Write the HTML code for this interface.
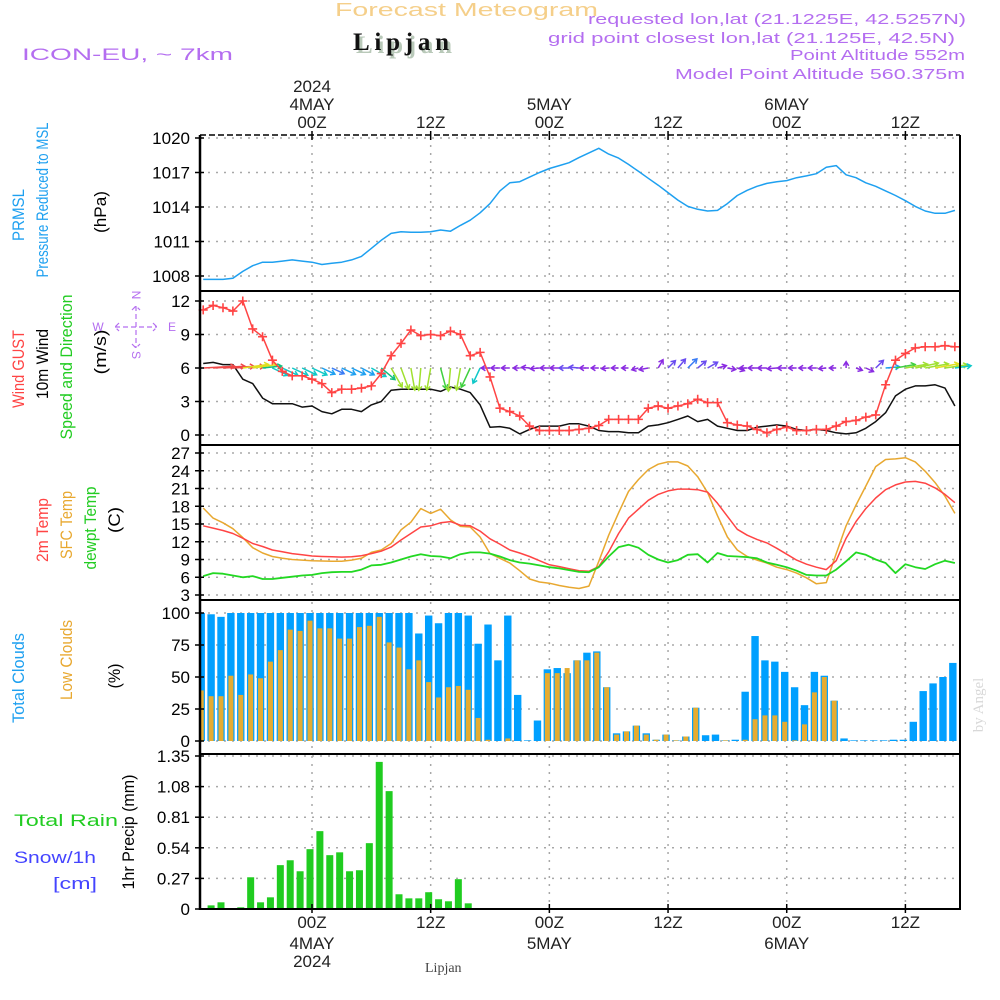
<!DOCTYPE html>
<html><head><meta charset="utf-8">
<style>
html,body{margin:0;padding:0;background:#fff;}
svg{display:block;font-family:"Liberation Sans",sans-serif;}
</style></head>
<body>
<svg id="chart" width="1000" height="1000" viewBox="0 0 1000 1000" xmlns="http://www.w3.org/2000/svg">
<rect x="0" y="0" width="1000" height="1000" fill="#fff"/>
<text x="335" y="16" font-size="18" fill="#f5cf8a" textLength="263" lengthAdjust="spacingAndGlyphs">Forecast Meteogram</text>
<text x="356" y="53" font-family="Liberation Serif,serif" font-weight="bold" font-size="25" fill="#b9c9b9" textLength="96">Lipjan</text>
<text x="353" y="50" font-family="Liberation Serif,serif" font-weight="bold" font-size="25" fill="#111" textLength="96">Lipjan</text>
<text x="22" y="60" font-size="17" fill="#b46ef0" textLength="211" lengthAdjust="spacingAndGlyphs">ICON-EU, ~ 7km</text>
<text x="588" y="24" font-size="15" fill="#b46ef0" textLength="378" lengthAdjust="spacingAndGlyphs">requested lon,lat (21.1225E, 42.5257N)</text>
<text x="548" y="43" font-size="15" fill="#b46ef0" textLength="407" lengthAdjust="spacingAndGlyphs">grid point closest lon,lat (21.125E, 42.5N)</text>
<text x="790" y="60" font-size="15" fill="#b46ef0" textLength="175" lengthAdjust="spacingAndGlyphs">Point Altitude 552m</text>
<text x="675" y="79" font-size="15" fill="#b46ef0" textLength="290" lengthAdjust="spacingAndGlyphs">Model Point Altitude 560.375m</text>
<text transform="translate(983,705) rotate(-90)" text-anchor="middle" font-family="Liberation Serif,serif" font-size="15" fill="#d8d8d8">by Angel</text>
<text x="425" y="972" font-family="Liberation Serif,serif" font-size="14" fill="#444">Lipjan</text>
<g id="g-grid"></g>
<g id="g-data"></g>
<g id="g-axes"></g>
<g id="g-labels"></g>
</svg>
<script>
// ---------------- DATA ----------------
const hours = [];
for (let h = -11; h <= 65; h++) hours.push(h);

const pressure = [1007.7,1007.7,1007.7,1007.8,1008.4,1008.9,1009.2,1009.2,1009.3,1009.4,1009.3,
 1009.2,1009.0,1009.1,1009.2,1009.4,1009.7,1010.4,1011.1,1011.7,1011.85,1011.8,1011.8,
 1011.85,1012.0,1011.9,1012.4,1012.85,1013.5,1014.3,1015.4,1016.1,1016.2,1016.6,1017.0,
 1017.35,1017.6,1017.85,1018.3,1018.7,1019.1,1018.6,1018.25,1017.7,1017.1,1016.5,1015.9,
 1015.25,1014.6,1014.05,1013.8,1013.65,1013.7,1014.3,1015.0,1015.45,1015.8,1016.05,1016.2,
 1016.3,1016.55,1016.7,1016.9,1017.45,1017.6,1016.8,1016.55,1016.1,1015.8,1015.4,1015.0,
 1014.55,1014.05,1013.65,1013.45,1013.45,1013.7];

const windGust = [11.2,11.6,11.4,11.1,12.0,9.5,8.8,6.7,5.7,5.3,5.3,
 5.0,4.6,3.8,4.1,4.1,4.2,4.4,5.5,7.1,8.2,9.4,8.9,9.0,8.9,9.3,9.0,7.1,7.4,5.2,2.4,2.1,1.7,0.8,0.4,0.4,0.4,0.4,0.5,0.6,
 0.85,1.4,1.4,1.4,1.4,2.4,2.6,2.4,2.6,2.8,3.2,2.9,2.9,1.1,0.9,0.8,0.5,0.2,0.5,0.7,0.4,0.4,0.5,0.5,0.8,1.2,1.3,1.6,1.8,4.5,6.7,7.3,7.8,7.9,7.9,8.0,7.9];

const windMean = [6.4,6.5,6.3,6.3,5.0,4.6,3.3,2.8,2.8,2.8,2.5,
 2.6,2.1,1.9,2.3,2.3,2.1,2.7,3.0,4.0,4.1,4.1,4.1,4.1,3.9,4.3,4.1,3.8,2.7,0.7,0.75,0.6,0.1,0.5,0.8,0.8,0.8,1.0,1.0,0.8,
 0.4,0.3,0.3,0.2,0.2,0.8,0.9,1.1,1.4,1.7,1.2,1.4,0.8,0.6,0.4,0.4,0.7,0.8,0.9,0.8,0.5,0.4,0.5,0.4,0.2,0.1,0.2,0.6,1.2,2.0,3.5,4.1,4.4,4.4,4.5,4.2,2.6];

// direction the arrow points, screen degrees (0 = east/right, 90 = south/down, 180 = west/left)
const windDir = [-3,-3,-3,-3,-8,-8,-6,25,25,25,25,
 25,25,25,25,25,28,30,40,60,70,80,95,100,75,95,100,115,115,180,180,180,180,185,175,180,180,180,185,180,
 180,175,180,180,165,170,-60,-45,-50,-45,-40,-30,-15,10,20,180,180,180,175,180,180,180,180,175,180,-90,20,25,-45,-5,-10,-10,-12,-10,-10,-8,-8];

const temp2m = [14.7,14.3,13.9,13.4,12.6,11.7,11.2,10.6,10.3,10.0,9.8,
 9.6,9.5,9.45,9.4,9.45,9.65,10.0,10.4,11.1,12.3,13.4,14.5,14.7,15.2,15.4,14.8,14.7,13.8,12.5,11.6,10.6,10.1,9.5,8.8,8.1,7.8,7.45,7.1,7.0,
 7.8,10.3,13.4,16.0,17.5,19.0,20.0,20.6,20.9,20.9,20.8,20.4,18.5,16.3,14.1,13.1,12.4,11.8,10.9,9.9,8.9,8.2,7.7,7.3,8.8,12.6,15.4,17.6,19.4,20.8,21.6,22.1,22.2,21.9,21.1,20.0,18.6];

const tempSfc = [17.7,16.0,15.2,14.2,12.7,11.0,10.1,9.5,9.2,9.0,8.9,
 8.8,8.75,8.7,8.7,8.9,9.2,10.2,10.6,11.7,14.0,15.3,17.6,16.8,17.5,15.7,14.6,14.5,12.8,10.0,9.2,8.4,7.1,5.7,5.2,5.0,4.6,4.3,4.1,4.5,
 8.7,13.1,16.9,20.5,22.5,24.2,25.1,25.5,25.5,24.8,23.0,20.3,16.4,12.8,10.6,9.5,8.9,8.4,7.7,7.3,6.7,5.9,4.9,5.1,10.0,14.7,18.2,21.4,24.7,25.9,26.0,26.2,25.5,23.9,22.0,19.7,16.8];

const dewpt = [6.2,6.7,6.6,6.3,6.0,6.2,5.7,5.7,5.9,6.1,6.3,
 6.4,6.7,6.85,6.9,6.9,7.3,8.0,8.1,8.5,9.0,9.5,9.9,9.6,9.5,9.2,9.9,10.2,10.2,10.0,9.5,8.9,8.5,8.3,8.0,7.7,7.5,7.2,6.9,6.85,
 7.7,9.5,11.1,11.5,11.0,9.8,9.0,8.5,8.9,9.8,9.9,8.5,10.1,9.6,9.5,9.4,9.2,8.5,8.1,7.7,7.1,6.4,6.3,6.3,7.3,8.7,10.2,9.8,9.0,8.4,6.7,8.2,7.7,7.4,8.2,8.8,8.4];

const totalClouds = [100,99,97,100,100,100,100,100,100,100,100,
 100,100,100,100,100,100,100,100,100,100,100,84,98,92,100,100,98,76,91,63,98,36,0.5,16,56,57,53,63,69,
 70,42,6,7.5,12,6,1,5,0.5,3.5,26,4.5,5,0.5,1,38.5,82,63,62,54,42,28,54,51,31.5,2,0.5,0.5,0.5,0.5,1,1,15,39,45,50,61];

const lowClouds = [39.5,35,35,51,36,52,49,62,71,87,86,
 94,88,88,80,80,89,90,97,77,73,56,63,46,34,42,43,40,18,1,0,2,0,0,0,53,53,57,63,63,
 69,42,5,7.5,12,5,1,5,0.5,3.5,26,0,0,0.5,0,1,17,20,20,15,0.5,13,38,50,31.5,0,0,0,0,0,0,0,0,0,0,0,0];

const precip = [0,0.032,0.059,0,0.015,0.28,0.059,0.103,0.387,0.43,0.333,
 0.528,0.687,0.475,0.50,0.333,0.342,0.581,1.298,1.04,0.13,0.094,0.094,0.148,0.086,0.068,0.263,0.05,
 0,0,0,0,0,0,0,0,0,0,0,0,0,0,0,0,0,0,0,0,0,0,0,0,0,0,0,0,0,0,0,0,0,0,0,0,0,0,0,0,0,0,0,0,0,0,0,0,0];

const pTicks = [1008,1011,1014,1017,1020];
const wTicks = [0,3,6,9,12];
const tTicks = [3,6,9,12,15,18,21,24,27];
const cTicks = [0,25,50,75,100];
const rTicks = ["0","0.27","0.54","0.81","1.08","1.35"];
const timeTicks = [0,12,24,36,48,60];
const timeTickText = ["00Z","12Z","00Z","12Z","00Z","12Z"];
const topDayText = ["4MAY","","5MAY","","6MAY",""];
const bottomDayText = ["4MAY","","5MAY","","6MAY",""];

// ---------------- SCALES ----------------
const X0 = 200, X1 = 960;
function xH(h){ return 312 + h*9.89; }
function yP(v){ return 276 - (v-1008)*(138/12); }
function yW(v){ return 435 - v*(134/12); }
function yT(v){ return 595 - (v-3)*(142/24); }
function yC(v){ return 741 - v*1.28; }
function yR(v){ return 909 - v*(153/1.35); }

const NS = "http://www.w3.org/2000/svg";
const gGrid = document.getElementById('g-grid');
const gData = document.getElementById('g-data');
const gAxes = document.getElementById('g-axes');
const gLab = document.getElementById('g-labels');
function mk(tag, attrs, parent){
  const e = document.createElementNS(NS, tag);
  for (const k in attrs) e.setAttribute(k, attrs[k]);
  parent.appendChild(e);
  return e;
}
function txt(s, attrs, parent){ const e = mk('text', attrs, parent); e.textContent = s; return e; }

const panels = [
  {name:'pressure', top:135, bot:291, ticks:pTicks, fy:yP},
  {name:'wind', top:291, bot:445, ticks:wTicks, fy:yW},
  {name:'temperature', top:445, bot:600, ticks:tTicks, fy:yT},
  {name:'clouds', top:600, bot:754, ticks:cTicks, fy:yC},
  {name:'precip', top:754, bot:909, ticks:rTicks.map(Number), fy:yR}
];

// grid + axes
panels.forEach((p, pi) => {
  p.ticks.forEach((t, i) => {
    const y = p.fy(t);
    const gl = mk('line', {x1:X0, x2:X1, y1:y, y2:y, stroke:'#a8a8a8', 'stroke-width':1.5, 'stroke-dasharray':'2,6'}, gGrid);
    
    
    const tk = mk('line', {x1:X0-5, x2:X0+4, y1:y, y2:y, stroke:'#000', 'stroke-width':1.5}, gAxes);
    
    
    const label = (p.name === 'precip') ? rTicks[i] : String(t);
    const tl = txt(label, {x:190, y:y+6, 'text-anchor':'end', 'font-size':17, fill:'#000'}, gAxes);
    
    
  });
  timeTicks.forEach(h => {
    const x = xH(h);
    const vl = mk('line', {x1:x, x2:x, y1:p.top+2, y2:p.bot-2, stroke:'#a8a8a8', 'stroke-width':1.5, 'stroke-dasharray':'2,6'}, gGrid);
    
    
  });
  const sep = mk('line', {x1:X0, x2:X1, y1:p.bot, y2:p.bot, stroke:'#000', 'stroke-width':2}, gAxes);
  
  
});
// frame
const topB = mk('line', {x1:X0, x2:X1, y1:135, y2:135, stroke:'#000', 'stroke-width':1.5, 'stroke-dasharray':'6,3'}, gAxes);


const leftB = mk('line', {x1:X0, x2:X0, y1:135, y2:910, stroke:'#000', 'stroke-width':2.5}, gAxes);


const rightB = mk('line', {x1:X1, x2:X1, y1:135, y2:910, stroke:'#000', 'stroke-width':2}, gAxes);


// time ticks on top and bottom
timeTicks.forEach((h, i) => {
  const x = xH(h);
  const t1 = mk('line', {x1:x, x2:x, y1:131, y2:140, stroke:'#000', 'stroke-width':1.5}, gAxes);
  
  
  const t2 = mk('line', {x1:x, x2:x, y1:904, y2:913, stroke:'#000', 'stroke-width':1.5}, gAxes);
  
  
  const a = txt(timeTickText[i], {x:x, y:128, 'text-anchor':'middle', 'font-size':17, fill:'#222'}, gLab);
  
  
  const b = txt(timeTickText[i], {x:x, y:928, 'text-anchor':'middle', 'font-size':17, fill:'#222'}, gLab);
  
  
  if (topDayText[i]) {
    const c = txt(topDayText[i], {x:x, y:110, 'text-anchor':'middle', 'font-size':17, fill:'#222'}, gLab);
    
    
  }
  if (bottomDayText[i]) {
    const d = txt(bottomDayText[i], {x:x, y:949, 'text-anchor':'middle', 'font-size':17, fill:'#222'}, gLab);
    
    
  }
});
const yTop = txt('2024', {x:xH(0), y:92, 'text-anchor':'middle', 'font-size':17, fill:'#222'}, gLab);


const yBot = txt('2024', {x:xH(0), y:967, 'text-anchor':'middle', 'font-size':17, fill:'#222'}, gLab);



// ---------------- SERIES ----------------
function linePath(arr, fy){
  return arr.map((v, i) => (i ? 'L' : 'M') + xH(hours[i]).toFixed(1) + ' ' + fy(v).toFixed(1)).join(' ');
}
function addLine(arr, fy, color, name, w){
  const p = mk('path', {d:linePath(arr, fy), fill:'none', stroke:color, 'stroke-width':w||1.5, 'stroke-linejoin':'round'}, gData);
  
  
}
addLine(pressure, yP, '#1ea0f0', 'pressure-line');

// clouds bars
const gClip = mk('clipPath', {id:'plotclip'}, gData);
mk('rect', {x:X0+1, y:130, width:X1-X0-2, height:790}, gClip);
const gBars = mk('g', {'clip-path':'url(#plotclip)'}, gData);
totalClouds.forEach((v, i) => {
  const x = xH(hours[i]) - 2;
  const r = mk('rect', {x:x-3.7, y:yC(v), width:7.4, height:yC(0)-yC(v), fill:'#00a0ff'}, gBars);
  
  
});
lowClouds.forEach((v, i) => {
  if (v <= 0) return;
  const x = xH(hours[i]) - 2;
  const r = mk('rect', {x:x-2.5, y:yC(v), width:5, height:yC(0)-yC(v), fill:'#e6ac30'}, gBars);
  
  
});
precip.forEach((v, i) => {
  if (v <= 0) return;
  const x = xH(hours[i]) - 2;
  const r = mk('rect', {x:x-3.5, y:yR(v), width:7, height:yR(0)-yR(v), fill:'#20cc20'}, gBars);
  
  
});

// temperature lines
addLine(tempSfc, yT, '#e8a830', 'sfc-temp-line');
addLine(temp2m, yT, '#ff4444', '2m-temp-line');
addLine(dewpt, yT, '#22d822', 'dewpt-temp-line', 1.8);

// wind
addLine(windMean, yW, '#111', 'mean-wind-line');
function speedColor(v){
  if (v < 1) return '#8a2be2';
  if (v < 1.5) return '#6a4cf0';
  if (v < 2) return '#3a7cf5';
  if (v < 2.5) return '#1ea0f0';
  if (v < 3) return '#10c8c8';
  if (v < 3.5) return '#10c080';
  if (v < 4) return '#40d040';
  if (v < 4.5) return '#a0e030';
  if (v < 5.5) return '#e0e020';
  if (v < 6.2) return '#f0a020';
  return '#f04848';
}
const gArrows = mk('g', {}, gData);
windMean.forEach((v, i) => {
  const bx = xH(hours[i]), by = yW(6);
  const len = 6 + 4*v;
  const a = windDir[i]*Math.PI/180;
  const tx = bx + len*Math.cos(a), ty = by + len*Math.sin(a);
  const col = speedColor(v);
  const h1 = a + Math.PI*0.82, h2 = a - Math.PI*0.82;
  const d = 'M' + bx.toFixed(1) + ' ' + by.toFixed(1) + ' L' + tx.toFixed(1) + ' ' + ty.toFixed(1) +
    ' M' + (tx + 5*Math.cos(h1)).toFixed(1) + ' ' + (ty + 5*Math.sin(h1)).toFixed(1) + ' L' + tx.toFixed(1) + ' ' + ty.toFixed(1) +
    ' L' + (tx + 5*Math.cos(h2)).toFixed(1) + ' ' + (ty + 5*Math.sin(h2)).toFixed(1);
  const p = mk('path', {d:d, fill:'none', stroke:col, 'stroke-width':1.5}, gArrows);
  
  
});
addLine(windGust, yW, '#ff4444', 'wind-gust-line');
windGust.forEach((v, i) => {
  const x = xH(hours[i]), y = yW(v);
  const c = mk('path', {d:'M'+(x-4.5)+' '+y+' L'+(x+4.5)+' '+y+' M'+x+' '+(y-4.5)+' L'+x+' '+(y+4.5), stroke:'#ff4444', 'stroke-width':1.6}, gData);
  
  
});

// ---------------- AXIS TITLES ----------------
function vlabel(s, x, cy, color, name, len){
  const attrs = {transform:'translate(' + x + ',' + cy + ') rotate(-90)', 'text-anchor':'middle', 'font-size':17, fill:color};
  if (len) { attrs.textLength = len; attrs.lengthAdjust = 'spacingAndGlyphs'; }
  const t = txt(s, attrs, gLab);
  
  
}
vlabel('PRMSL', 24, 215, '#1ea0f0', 'prmsl-label', 52);
vlabel('Pressure Reduced to MSL', 48, 200, '#1ea0f0', 'pressure-reduced-label', 155);
vlabel('(hPa)', 106, 212, '#000', 'hpa-unit-label', 42);
vlabel('Wind GUST', 24, 369, '#ff4444', 'wind-gust-label', 78);
vlabel('10m Wind', 48, 364, '#000', 'mean-wind-label', 70);
vlabel('Speed and Direction', 72, 367, '#22cc22', 'speed-direction-label', 145);
vlabel('(m/s)', 106, 352, '#000', 'ms-unit-label', 45);
vlabel('2m Temp', 48, 530, '#ff4444', '2m-temp-label', 64);
vlabel('SFC Temp', 72, 525, '#e8a830', 'sfc-temp-label', 68);
vlabel('dewpt Temp', 96, 528, '#22cc22', 'dewpt-temp-label', 83);
vlabel('(C)', 120, 520, '#000', 'celsius-unit-label', 26);
vlabel('Total Clouds', 24, 678, '#1ea0f0', 'total-clouds-label', 90);
vlabel('Low Clouds', 72, 660, '#e8a830', 'low-clouds-label', 80);
vlabel('(%)', 120, 676, '#000', 'percent-unit-label', 25);
vlabel('1hr Precip (mm)', 134, 832, '#000', 'precip-unit-label', 115);
const tr = txt('Total  Rain', {x:14, y:826, 'font-size':17, fill:'#22cc22', textLength:104, lengthAdjust:'spacingAndGlyphs'}, gLab);


const sn = txt('Snow/1h', {x:14, y:863, 'font-size':17, fill:'#4444ff', textLength:82, lengthAdjust:'spacingAndGlyphs'}, gLab);


const cm = txt('[cm]', {x:53, y:889, 'font-size':17, fill:'#4444ff', textLength:44, lengthAdjust:'spacingAndGlyphs'}, gLab);



// compass
const comp = mk('g', {fill:'#b46ef0', 'font-size':12}, gLab);


const cN = txt('N', {x:136, y:299, 'text-anchor':'middle', transform:'rotate(90 136 295)'}, comp);


const cS = txt('S', {x:136, y:359, 'text-anchor':'middle', transform:'rotate(90 136 355)'}, comp);


const cW = txt('W', {x:98, y:331, 'text-anchor':'middle'}, comp);


const cE = txt('E', {x:172, y:331, 'text-anchor':'middle'}, comp);


const cx = mk('path', {d:'M115 327 L157 327 M136 306 L136 348 M119 323 L115 327 L119 331 M153 323 L157 327 L153 331 M132 310 L136 306 L140 310 M132 344 L136 348 L140 344', stroke:'#b46ef0', 'stroke-width':1.2, fill:'none', 'stroke-dasharray':'5,3'}, comp);


</script>
</body></html>
